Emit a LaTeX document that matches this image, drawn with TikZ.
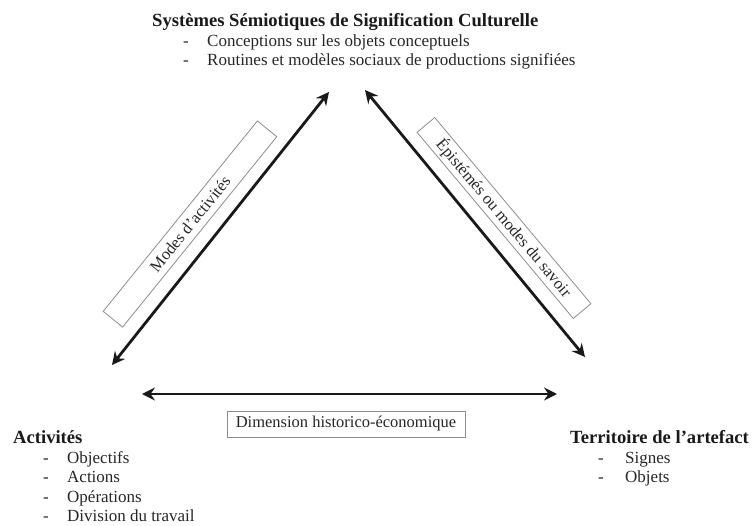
\documentclass[tikz,border=0pt]{standalone}
\usepackage{fontspec}
\setmainfont{Liberation Serif}
\usetikzlibrary{arrows.meta}
\begin{document}
\begin{tikzpicture}[x=1pt,y=-1pt,
  txt/.style={inner sep=0pt, anchor=base west, font=\fontsize{17}{19}\selectfont, text=black!85},
  ttl/.style={txt, font=\fontsize{18.6}{20}\selectfont\bfseries, text=black!90},
  lbl/.style={draw=black!45, line width=0.8pt, inner sep=0pt, font=\fontsize{16.5}{19}\selectfont, text=black!85},
  dbl/.style={line width=2.8pt, black!90, {Stealth[length=13pt,width=13pt,inset=4.5pt]}-{Stealth[length=13pt,width=13pt,inset=4.5pt]}}]
\useasboundingbox (0,0) rectangle (752,525);
% top block
\node[ttl] (sys) at (152,26) {Systèmes Sémiotiques de Signification Culturelle};
\node[txt] (sd1) at (183,46) {-};
\node[txt] (s1) at (207,46) {Conceptions sur les objets conceptuels};
\node[txt] (sd2) at (183,65) {-};
\node[txt] (s2) at (207,65) {Routines et modèles sociaux de productions signifiées};
% left block
\node[ttl] (act) at (13,443) {Activités};
\node[txt] (ad1) at (43,463) {-};
\node[txt] (a1) at (67,463) {Objectifs};
\node[txt] (ad2) at (43,482) {-};
\node[txt] (a2) at (67,482) {Actions};
\node[txt] (ad3) at (43,502) {-};
\node[txt] (a3) at (67,502) {Opérations};
\node[txt] (ad4) at (43,521) {-};
\node[txt] (a4) at (67,521) {Division du travail};
% right block
\node[ttl] (ter) at (570,443) {Territoire de l’artefact};
\node[txt] (td1) at (598,463) {-};
\node[txt] (t1) at (625,463) {Signes};
\node[txt] (td2) at (598,482) {-};
\node[txt] (t2) at (625,482) {Objets};
% arrow end points
\coordinate (tl) at (329,92);
\coordinate (bl) at (112,365);
\coordinate (tr) at (365,90);
\coordinate (br) at (585,357);
\coordinate (hl) at (142,394);
\coordinate (hr) at (557,394);
\draw[dbl] (tl) -- (bl);
\draw[dbl] (tr) -- (br);
\draw[dbl] (hl) -- (hr);
% labels
\node[lbl, minimum width=245pt, minimum height=25pt, rotate=51] (modes) at (190,224) {Modes d’activités};
\node[lbl, minimum width=243pt, minimum height=23pt, rotate=-50] (epi) at (504,218) {Épistémés ou modes du savoir};
\node[lbl, minimum width=238pt, minimum height=26pt] (dim) at (346,424) {Dimension historico-économique};
\end{tikzpicture}
\end{document}
